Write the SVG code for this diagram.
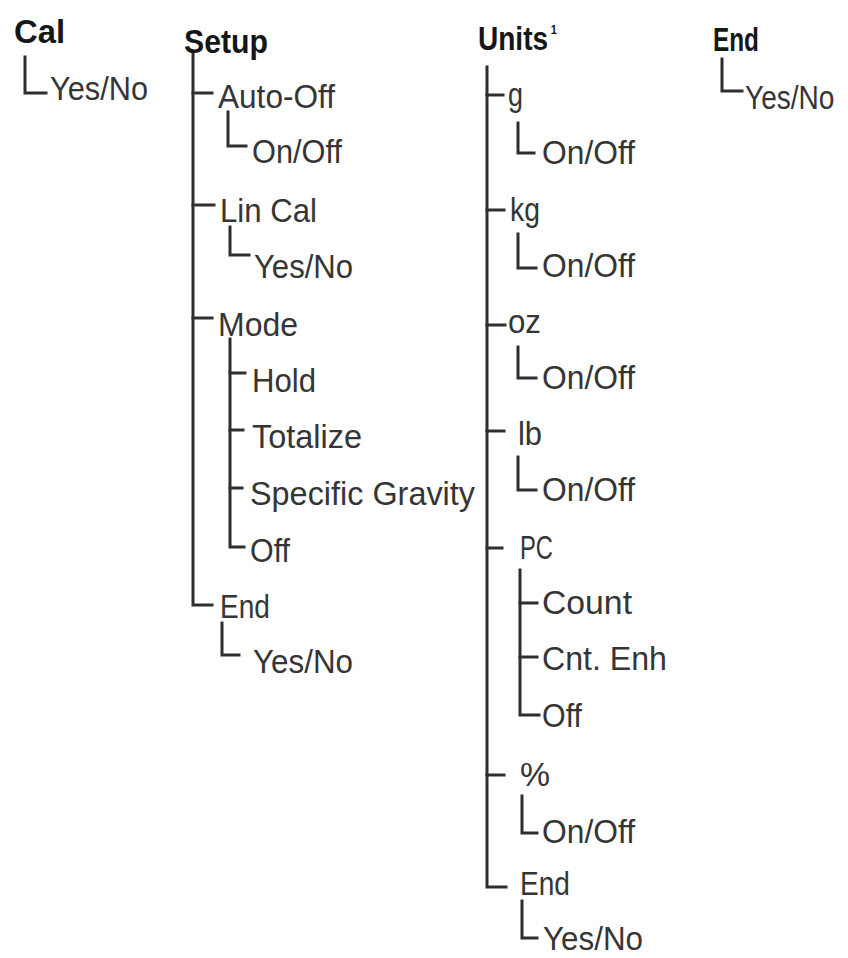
<svg xmlns="http://www.w3.org/2000/svg" width="848" height="958" viewBox="0 0 848 958">
<style>
text{font-family:"Liberation Sans",Arial,sans-serif;font-size:33px;fill:#353535}
.h{font-weight:bold;font-size:33px;fill:#161616}
.sup{font-size:13px}
#connectors path{fill:none;stroke:#2e2e2e;stroke-width:3;stroke-linecap:square;stroke-linejoin:miter}
</style>
<rect width="848" height="958" fill="#ffffff"/>
<g id="connectors">
<path d="M25,57 V93 H46"/>
<path d="M193,53 V605 H212"/>
<path d="M193,93 H212"/>
<path d="M228,112 V146 H246"/>
<path d="M193,205 H214"/>
<path d="M230,227 V255 H249"/>
<path d="M193,318 H212"/>
<path d="M230,339 V547 H244"/>
<path d="M230,373 H245"/>
<path d="M230,430 H243"/>
<path d="M230,488 H242"/>
<path d="M222,623 V655 H239"/>
<path d="M487,67 V887 H506"/>
<path d="M487,95 H503"/>
<path d="M518,123 V153 H534"/>
<path d="M487,210 H504"/>
<path d="M518,234 V268 H536"/>
<path d="M487,325 H505"/>
<path d="M518,347 V378 H536"/>
<path d="M487,431 H504"/>
<path d="M518,457 V490 H536"/>
<path d="M487,548 H502"/>
<path d="M520,570 V715 H539"/>
<path d="M520,603 H537"/>
<path d="M520,657 H537"/>
<path d="M487,775 H504"/>
<path d="M522,796 V833 H537"/>
<path d="M522,901 V938 H537"/>
<path d="M722,59 V91 H742"/>
</g>
<g id="cal"><text class="h" x="14" y="43" textLength="51" lengthAdjust="spacingAndGlyphs">Cal</text></g>
<g id="cal-yesno"><text x="50" y="100" textLength="98" lengthAdjust="spacingAndGlyphs">Yes/No</text></g>

<g id="setup"><text class="h" x="184" y="53" textLength="84" lengthAdjust="spacingAndGlyphs">Setup</text></g>
<g id="auto-off"><text x="218" y="108" textLength="117" lengthAdjust="spacingAndGlyphs">Auto-Off</text></g>
<g id="auto-off-onoff"><text x="252" y="163" textLength="90" lengthAdjust="spacingAndGlyphs">On/Off</text></g>
<g id="lin-cal"><text x="220" y="222" textLength="97" lengthAdjust="spacingAndGlyphs">Lin Cal</text></g>
<g id="lin-cal-yesno"><text x="254" y="278" textLength="99" lengthAdjust="spacingAndGlyphs">Yes/No</text></g>
<g id="mode"><text x="218" y="336" textLength="80" lengthAdjust="spacingAndGlyphs">Mode</text></g>
<g id="hold"><text x="252" y="392" textLength="64" lengthAdjust="spacingAndGlyphs">Hold</text></g>
<g id="totalize"><text x="252" y="448" textLength="110" lengthAdjust="spacingAndGlyphs">Totalize</text></g>
<g id="specific-gravity"><text x="250" y="505" textLength="225" lengthAdjust="spacingAndGlyphs">Specific Gravity</text></g>
<g id="mode-off"><text x="250" y="562" textLength="40" lengthAdjust="spacingAndGlyphs">Off</text></g>
<g id="setup-end"><text x="220" y="618" textLength="50" lengthAdjust="spacingAndGlyphs">End</text></g>
<g id="setup-end-yesno"><text x="253" y="673" textLength="100" lengthAdjust="spacingAndGlyphs">Yes/No</text></g>

<g id="units"><text class="h" transform="translate(478,50) scale(0.85,1)">Units<tspan class="sup" dx="3" dy="-16">1</tspan></text></g>
<g id="g"><text x="508" y="106" textLength="15" lengthAdjust="spacingAndGlyphs">g</text></g>
<g id="g-onoff"><text x="542" y="164" textLength="93" lengthAdjust="spacingAndGlyphs">On/Off</text></g>
<g id="kg"><text x="510" y="221" textLength="30" lengthAdjust="spacingAndGlyphs">kg</text></g>
<g id="kg-onoff"><text x="542" y="277" textLength="93" lengthAdjust="spacingAndGlyphs">On/Off</text></g>
<g id="oz"><text x="508" y="333" textLength="33" lengthAdjust="spacingAndGlyphs">oz</text></g>
<g id="oz-onoff"><text x="542" y="389" textLength="93" lengthAdjust="spacingAndGlyphs">On/Off</text></g>
<g id="lb"><text x="518" y="445" textLength="24" lengthAdjust="spacingAndGlyphs">lb</text></g>
<g id="lb-onoff"><text x="542" y="501" textLength="93" lengthAdjust="spacingAndGlyphs">On/Off</text></g>
<g id="pc"><text x="520" y="559" textLength="33" lengthAdjust="spacingAndGlyphs">PC</text></g>
<g id="count"><text x="542" y="614" textLength="90" lengthAdjust="spacingAndGlyphs">Count</text></g>
<g id="cnt-enh"><text x="542" y="670" textLength="125" lengthAdjust="spacingAndGlyphs">Cnt. Enh</text></g>
<g id="pc-off"><text x="542" y="727" textLength="40" lengthAdjust="spacingAndGlyphs">Off</text></g>
<g id="percent"><text x="520" y="786" textLength="30" lengthAdjust="spacingAndGlyphs">%</text></g>
<g id="percent-onoff"><text x="542" y="843" textLength="93" lengthAdjust="spacingAndGlyphs">On/Off</text></g>
<g id="units-end"><text x="520" y="895" textLength="50" lengthAdjust="spacingAndGlyphs">End</text></g>
<g id="units-end-yesno"><text x="543" y="950" textLength="100" lengthAdjust="spacingAndGlyphs">Yes/No</text></g>

<g id="end"><text class="h" x="713" y="51" textLength="46" lengthAdjust="spacingAndGlyphs">End</text></g>
<g id="end-yesno"><text transform="translate(745,109) scale(0.85,1)">Yes/No</text></g>
</svg>
